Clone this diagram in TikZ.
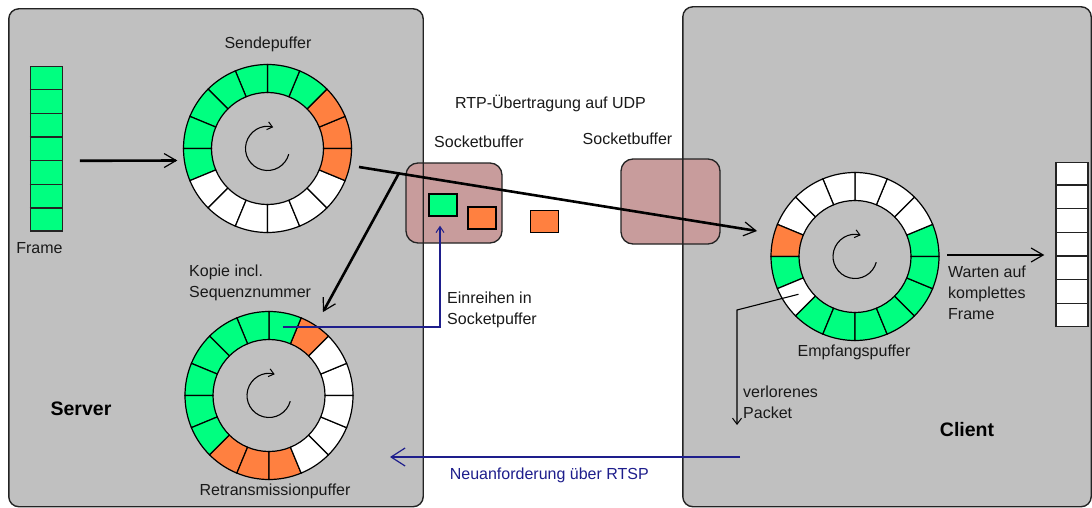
\documentclass[tikz,border=0pt]{standalone}
\usepackage{fontspec}
\setmainfont{Liberation Sans}
\usetikzlibrary{arrows.meta,calc}

\definecolor{panelgray}{RGB}{192,192,192}
\definecolor{pktgreen}{RGB}{0,255,128}
\definecolor{pktorange}{RGB}{255,128,64}
\definecolor{sockrose}{RGB}{200,156,156}
\definecolor{linkblue}{RGB}{30,30,140}
\definecolor{edgegray}{RGB}{35,35,35}

% ring buffer of 16 cells around a named node; #2 = cell colours,
% counter-clockwise starting at the east direction
\newcommand{\ringbuffer}[2]{%
  \foreach \segcol [count=\k from 0] in {#2} {%
    \pgfmathsetmacro{\angA}{22.5*\k}%
    \pgfmathsetmacro{\angB}{22.5*(\k+1)}%
    \filldraw[ringline, fill=\segcol]
      ($(#1)+(\angA:84pt)$) arc[start angle=\angA, end angle=\angB, radius=84pt]
      -- ($(#1)+(\angB:56pt)$) arc[start angle=\angB, end angle=\angA, radius=56pt]
      -- cycle;
  }%
  \draw[spin] ($(#1)+(-15:22pt)$) arc[start angle=-15, end angle=-285, radius=22pt];
}

\begin{document}
\begin{tikzpicture}[x=1pt, y=-1pt,
  Vopen/.tip={Straight Barb[length=12pt,width=14pt,line width=1.2pt]},
  Vsmall/.tip={Straight Barb[length=5pt,width=8pt,line width=1pt]},
  panelfill/.style={rectangle, fill=panelgray, rounded corners=10pt, inner sep=0pt, draw=none},
  paneledge/.style={draw=edgegray, line width=1.4pt, rounded corners=10pt},
  sockbox/.style={rectangle, fill=sockrose, draw=edgegray, line width=1.3pt, rounded corners=12pt, inner sep=0pt},
  pkt/.style={rectangle, draw=black, line width=1.4pt, minimum width=28pt, minimum height=22pt, inner sep=0pt},
  stack/.style={rectangle, draw=edgegray, line width=1.4pt, minimum width=32pt, minimum height=164pt, inner sep=0pt},
  ringslot/.style={circle, minimum size=168pt, inner sep=0pt},
  ringline/.style={draw=black, line width=1.2pt},
  spin/.style={draw=black, line width=1.1pt, -{Vsmall}},
  bigarrow/.style={draw=black, line width=2.6pt, -{Vopen}},
  thinarrow/.style={draw=black, line width=1.1pt, -{Straight Barb[length=6pt,width=9pt,line width=1pt]}},
  bluearrow/.style={draw=linkblue, line width=1.4pt, -{Straight Barb[length=6pt,width=8pt,line width=1pt]}},
  bluebig/.style={draw=linkblue, line width=2.2pt, -{Straight Barb[length=14pt,width=18pt,line width=1.2pt]}},
  lbl/.style={font=\fontsize{16}{21}\selectfont, inner sep=0pt, text=black!90},
  bold/.style={font=\fontsize{19.5}{23}\selectfont\bfseries, inner sep=0pt, text=black}
]
\useasboundingbox (0,0) rectangle (1092,508);
\fill[white] (0,0) rectangle (1092,508);

% server and client areas
\node[panelfill, minimum width=414pt, minimum height=497.5pt] (server) at (216,257.75) {};
\node[panelfill, minimum width=408pt, minimum height=499.5pt] (client) at (887,256.75) {};

% socket buffers straddle the area borders
\node[sockbox, minimum width=96pt, minimum height=80pt] (sockS) at (454,203) {};
\node[sockbox, minimum width=99pt, minimum height=85pt] (sockC) at (670.5,201.5) {};

\draw[paneledge] (server.north west) rectangle (server.south east);
\draw[paneledge] (client.north west) rectangle (client.south east);

% packets
\node[pkt, fill=pktgreen]  (pktA) at (443,205) {};
\node[pkt, fill=pktorange] (pktB) at (482,218) {};
\node[pkt, fill=pktorange] (pktC) at (544.5,221.3) {};

% frames
\node[stack, fill=pktgreen] (srvframe) at (46.2,148.8) {};
\node[stack, fill=white]    (cliframe) at (1072,244.2) {};
\foreach \f in {srvframe, cliframe} {
  \foreach \i in {1,...,6} {
    \draw[draw=edgegray, line width=1.4pt]
      ($(\f.north west)!\i/7!(\f.south west)$) -- ($(\f.north east)!\i/7!(\f.south east)$);
  }
}

% ring buffers
\node[ringslot] (sendbuf) at (267.5,148.5) {};
\node[ringslot] (retrans) at (269,395.5) {};
\node[ringslot] (recvbuf) at (855,256.5) {};

\ringbuffer{sendbuf}{pktorange,pktorange,pktgreen,pktgreen,pktgreen,pktgreen,pktgreen,pktgreen,pktgreen,white,white,white,white,white,white,pktorange}
\ringbuffer{retrans}{white,white,pktorange,pktgreen,pktgreen,pktgreen,pktgreen,pktgreen,pktgreen,pktgreen,pktorange,pktorange,pktorange,white,white,white}
\ringbuffer{recvbuf}{pktgreen,white,white,white,white,white,white,pktorange,pktgreen,white,pktgreen,pktgreen,pktgreen,pktgreen,pktgreen,pktgreen}

% labels
\node[lbl] (lSend) at (268,44) {Sendepuffer};
\node[lbl] (lFrame) at (39.5,248) {Frame};
\node[lbl, align=left, anchor=west] (lKopie) at (189,282.5) {Kopie incl.\\Sequenznummer};
\node[bold] (lServer) at (81,409) {Server};
\node[lbl] (lRetrans) at (275,491) {Retransmissionpuffer};
\node[lbl] (lRTP) at (550.5,103) {RTP-Übertragung auf UDP};
\node[lbl] (lSockS) at (479,142) {Socketbuffer};
\node[lbl] (lSockC) at (627.5,139) {Socketbuffer};
\node[lbl, align=left, anchor=west] (lEinreihen) at (447,309.5) {Einreihen in\\Socketpuffer};
\node[lbl] (lRecv) at (854,352) {Empfangspuffer};
\node[lbl, align=left, anchor=west] (lWarten) at (948,293) {Warten auf\\komplettes\\Frame};
\node[lbl, align=left, anchor=west] (lLost) at (743,402) {verlorenes\\Packet};
\node[bold] (lClient) at (967,430) {Client};
\node[lbl, text=linkblue] (lReq) at (549.3,475) {Neuanforderung über RTSP};

% connectors
\coordinate (txA) at ($(sendbuf.center)+(91.5,18.5)$);
\coordinate (txB) at ($(recvbuf.center)+(-98,-25.5)$);
\coordinate (lostBend) at (737,310);
\coordinate (lostEnd) at (737,425);
\coordinate (reqStart) at (740,457);
\coordinate (reqEnd) at (390,457);

\draw[bigarrow] ($(srvframe.east)+(17,12)$) -- ($(sendbuf.west)+(-6,12)$);
\draw[bigarrow] (txA) -- (txB);
\draw[bigarrow] ($(txA)!0.1!(txB)$) -- ($(retrans.center)+(54,-83.5)$);
\draw[bluearrow] ($(retrans.center)+(78.75:70pt)$) -| ($(pktA.south)+(-3,9)$);
\draw[thinarrow] ($(recvbuf.center)+(213.75:68pt)$) -- (lostBend) -- (lostEnd);
\draw[bigarrow] ($(recvbuf.east)+(8,-1.5)$) -- ($(cliframe.west)+(-11,10.8)$);
\draw[bluebig] (reqStart) -- (reqEnd);
\end{tikzpicture}
\end{document}
